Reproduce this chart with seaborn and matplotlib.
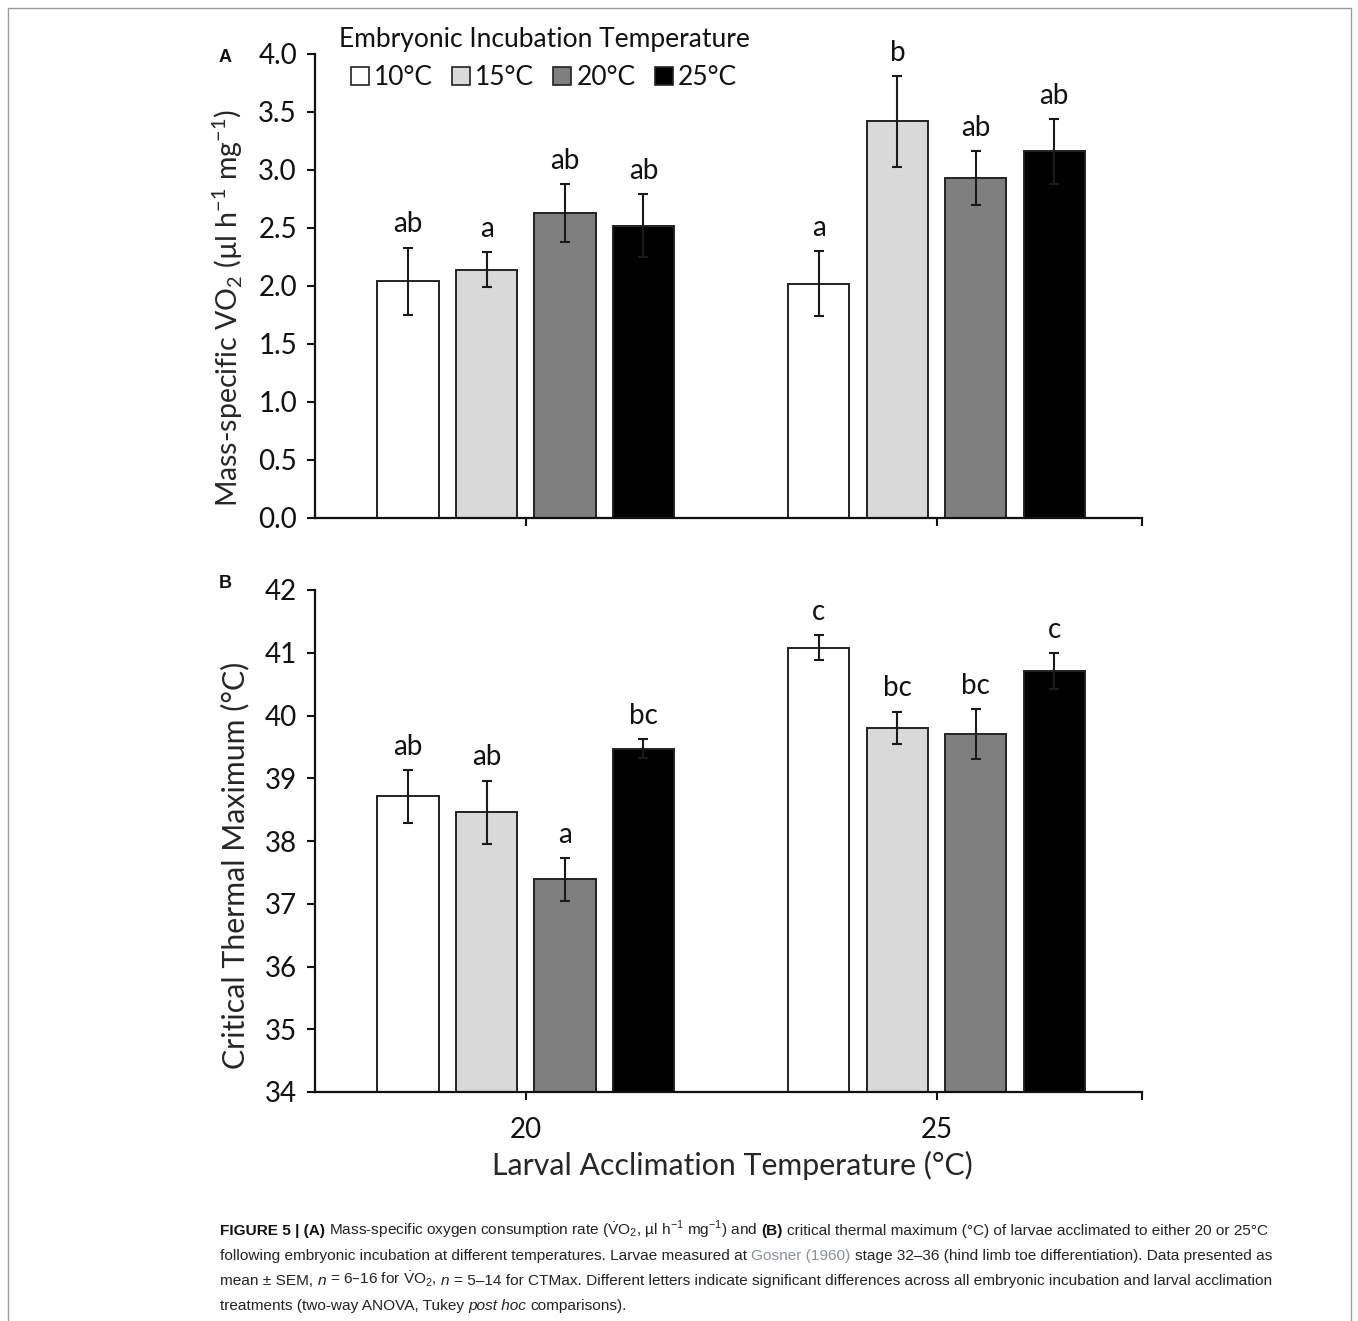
import numpy as np
import pandas as pd
import matplotlib
matplotlib.use("Agg")
import matplotlib.pyplot as plt
from matplotlib import font_manager
from matplotlib.lines import Line2D
import seaborn as sns

# ---------------- data ----------------
larval_temps = ["20", "25"]
embryo_temps = ["10°C", "15°C", "20°C", "25°C"]

vo2_l20 = [2.04, 2.14, 2.63, 2.52]
vo2_l25 = [2.02, 3.42, 2.93, 3.16]
vo2_sem_l20 = [0.29, 0.15, 0.25, 0.27]
vo2_sem_l25 = [0.28, 0.39, 0.23, 0.28]
vo2_letters_l20 = ["ab", "a", "ab", "ab"]
vo2_letters_l25 = ["a", "b", "ab", "ab"]

ct_l20 = [38.71, 38.46, 37.39, 39.47]
ct_l25 = [41.08, 39.80, 39.70, 40.71]
ct_sem_l20 = [0.42, 0.50, 0.34, 0.15]
ct_sem_l25 = [0.20, 0.26, 0.40, 0.28]
ct_letters_l20 = ["ab", "ab", "a", "bc"]
ct_letters_l25 = ["c", "bc", "bc", "c"]

bar_colors = ["#ffffff", "#d9d9d9", "#7f7f7f", "#000000"]

# ---------------- style ----------------
sns.set_theme(style="ticks")
installed = {f.name for f in font_manager.fontManager.ttflist}
main_font = "Lato" if "Lato" in installed else "DejaVu Sans"
cap_font = "Liberation Sans Narrow" if "Liberation Sans Narrow" in installed else "Liberation Sans"
plt.rcParams["font.family"] = [main_font, "DejaVu Sans"]
plt.rcParams["axes.linewidth"] = 1.5
plt.rcParams["text.color"] = "#111111"

W, H = 1358, 1321
fig = plt.figure(figsize=(W / 100, H / 100), dpi=100)
fig.patch.set_facecolor("white")


def build_df(v20, v25, s20, s25, l20, l25):
    rows = []
    for lt, vals, sems, lets in [("20", v20, s20, l20), ("25", v25, s25, l25)]:
        for et, v, s, l in zip(embryo_temps, vals, sems, lets):
            rows.append({"larval": lt, "embryo": et, "value": v, "err": s, "letter": l})
    return pd.DataFrame(rows)


df_a = build_df(vo2_l20, vo2_l25, vo2_sem_l20, vo2_sem_l25, vo2_letters_l20, vo2_letters_l25)
df_b = build_df(ct_l20, ct_l25, ct_sem_l20, ct_sem_l25, ct_letters_l20, ct_letters_l25)

L, R = 315, 1142
ax_a = fig.add_axes([L / W, 1 - 518 / H, (R - L) / W, (518 - 54) / H])
ax_b = fig.add_axes([L / W, 1 - 1092 / H, (R - L) / W, (1092 - 590) / H])


def draw_panel(ax, df, ylim, yticks, yfmt, legend):
    sns.barplot(data=df, x="larval", y="value", hue="embryo", order=larval_temps,
                hue_order=embryo_temps, palette=bar_colors, errorbar=None,
                edgecolor="#222222", linewidth=1.4, width=0.764, gap=0.22,
                legend=legend, ax=ax, zorder=2)
    for cont, et in zip(ax.containers, embryo_temps):
        for bar, lt in zip(cont, larval_temps):
            row = df[(df["larval"] == lt) & (df["embryo"] == et)].iloc[0]
            val, err = float(row["value"]), float(row["err"])
            xc = bar.get_x() + bar.get_width() / 2
            ax.errorbar(xc, val, yerr=err, fmt="none", ecolor="#1a1a1a",
                        elinewidth=1.5, capsize=3.3, capthick=1.5, zorder=3)
            ax.annotate(row["letter"], (xc, val + err), xytext=(0, 11),
                        textcoords="offset points", ha="center", va="baseline",
                        fontsize=20, color="#111111")
    ax.set_xlim(-0.513, 1.5)
    ax.set_ylim(*ylim)
    ax.set_yticks(yticks)
    ax.set_yticklabels([yfmt.format(t) for t in yticks])
    ax.set_xticks([0, 1])
    ax.set_xticks([1.5], minor=True)
    ax.tick_params(axis="both", which="both", direction="out", length=6, width=1.5,
                   color="#111111", labelsize=20, labelcolor="#111111")
    ax.tick_params(axis="y", pad=7)
    ax.tick_params(axis="x", pad=12)
    for s in ["top", "right"]:
        ax.spines[s].set_visible(False)
    for s in ["left", "bottom"]:
        ax.spines[s].set_color("#111111")
        ax.spines[s].set_linewidth(1.6)
    ax.set_facecolor("white")


draw_panel(ax_a, df_a, (0, 4.0), [0, 0.5, 1.0, 1.5, 2.0, 2.5, 3.0, 3.5, 4.0], "{:.1f}", True)
draw_panel(ax_b, df_b, (34, 42), list(range(34, 43)), "{:d}", False)

ax_a.set_xticklabels([])
ax_a.set_xlabel("")
ax_a.set_ylabel("Mass-specific VO$_\\mathregular{2}$ (µl h$^\\mathregular{-1}$ mg$^\\mathregular{-1}$)",
                fontsize=20.5, va="center")
ax_a.yaxis.set_label_coords((228 - L) / (R - L), (518 - 308) / 464)

ax_b.set_xticklabels(larval_temps)
ax_b.set_xlabel("Larval Acclimation Temperature (°C)", fontsize=21.8, va="center")
ax_b.xaxis.set_label_coords((732 - L) / (R - L), (1092 - 1165) / 502)
ax_b.set_ylabel("Critical Thermal Maximum (°C)", fontsize=21.8, va="center")
ax_b.yaxis.set_label_coords((235 - L) / (R - L), (1092 - 865) / 502)

# legend
handles, labels = ax_a.get_legend_handles_labels()
if ax_a.get_legend() is not None:
    ax_a.get_legend().remove()
leg = ax_a.legend(handles, labels, title="Embryonic Incubation Temperature", ncol=4,
                  frameon=False, loc="upper center", bbox_to_anchor=(544 / W, 1 - 11 / H),
                  bbox_transform=fig.transFigure, fontsize=19, title_fontsize=19,
                  handlelength=0.68, handleheight=0.68, handletextpad=0.2,
                  columnspacing=0.72, borderpad=0.1, labelspacing=0.5)
for h in leg.legend_handles:
    h.set_edgecolor("#222222")
    h.set_linewidth(1.2)

# panel letters
fig.text(225 / W, 1 - 58 / H, "A", fontsize=13, fontweight="bold", ha="center", va="center",
         family=["Liberation Sans", "DejaVu Sans"])
fig.text(225 / W, 1 - 584 / H, "B", fontsize=13, fontweight="bold", ha="center", va="center",
         family=["Liberation Sans", "DejaVu Sans"])

# border frame (top, left, right)
fc = "#9a9a9a"
fig.add_artist(Line2D([8 / W, 1351 / W], [1 - 8 / H, 1 - 8 / H], transform=fig.transFigure, color=fc, lw=1))
fig.add_artist(Line2D([8 / W, 8 / W], [1 - 8 / H, 0], transform=fig.transFigure, color=fc, lw=1))
fig.add_artist(Line2D([1351 / W, 1351 / W], [1 - 8 / H, 0], transform=fig.transFigure, color=fc, lw=1))

# ---------------- caption ----------------
renderer = fig.canvas.get_renderer()
cap_size = 11.1
base = dict(fontsize=cap_size, family=[cap_font, "DejaVu Sans"], color="#222222")


def seg_width(s, props):
    t1 = fig.text(0, 0, "|" + s + "|", **props)
    w1 = t1.get_window_extent(renderer).width
    t1.remove()
    t2 = fig.text(0, 0, "||", **props)
    w2 = t2.get_window_extent(renderer).width
    t2.remove()
    return w1 - w2


def draw_line(x, y, segments):
    for s, extra in segments:
        props = dict(base)
        props.update(extra)
        stripped = s.lstrip(" ")
        nlead = len(s) - len(stripped)
        if nlead:
            x += nlead * seg_width(" ", props)
        if stripped:
            fig.text(x / W, 1 - y / H, stripped, ha="left", va="baseline", **props)
            x += seg_width(stripped, props)


B = {"fontweight": "bold", "color": "#111111"}
N = {}
I = {"style": "italic"}
G = {"color": "#8a9097"}
VO2 = "$\\mathregular{\\dot{V}O_2}$"

draw_line(220, 1235, [
    ("FIGURE 5 | (A)", B),
    (" Mass-specific oxygen consumption rate (" + VO2 + ", µl h$^\\mathregular{-1}$ mg$^\\mathregular{-1}$) and ", N),
    ("(B)", B),
    (" critical thermal maximum (°C) of larvae acclimated to either 20 or 25°C", N),
])
draw_line(220, 1260, [
    ("following embryonic incubation at different temperatures. Larvae measured at ", N),
    ("Gosner (1960)", G),
    (" stage 32–36 (hind limb toe differentiation). Data presented as", N),
])
draw_line(220, 1285, [
    ("mean ± SEM, ", N), ("n", I), (" = 6–16 for " + VO2 + ", ", N), ("n", I),
    (" = 5–14 for CTMax. Different letters indicate significant differences across all embryonic incubation and larval acclimation", N),
])
draw_line(220, 1310, [
    ("treatments (two-way ANOVA, Tukey ", N), ("post hoc", I), (" comparisons).", N),
])

fig.savefig("out.png", dpi=100, facecolor="white")
